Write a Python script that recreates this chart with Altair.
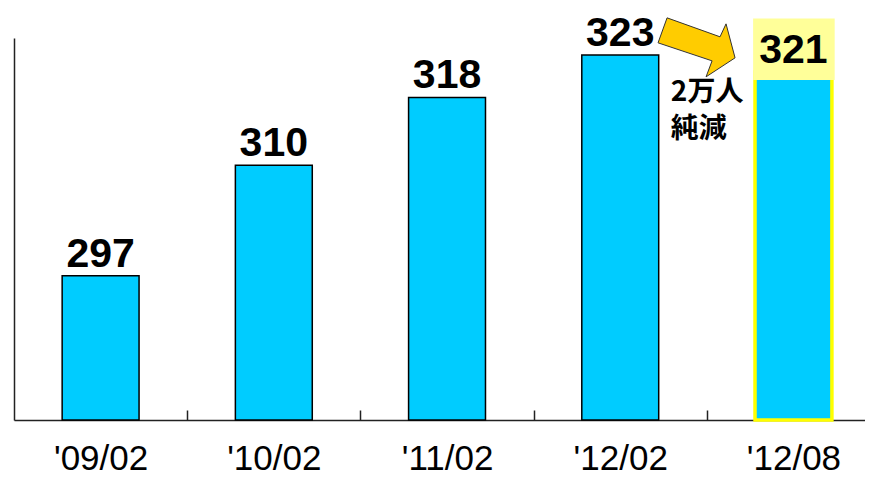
import json
import altair as alt
import pandas as pd

# ---- data ----
categories = ["'09/02", "'10/02", "'11/02", "'12/02", "'12/08"]
values = [297, 310, 318, 323, 321]
highlight_cat = "'12/08"
y_min, y_max = 280, 325

# annotation data (in data units)
box_cat = ["'12/08"]
box_top = [327.3]
box_bottom = [320.05]
arrow_cat = ["'12/02"]
arrow_y = [323.9]
note_cat = ["'12/02"]
note_y = [320.2]
note_text = ["2万人\n純減"]

df = pd.DataFrame({"cat": categories, "value": values})
box_df = pd.DataFrame({"cat": box_cat, "top": box_top, "bottom": box_bottom})
arrow_df = pd.DataFrame({"cat": arrow_cat, "y": arrow_y})
note_df = pd.DataFrame({"cat": note_cat, "y": note_y, "text": note_text})

cats_js = json.dumps(categories)
idx_expr = f"indexof({cats_js}, datum.cat)"

# category slots are one unit wide; the last slot runs past the right edge
xscale = alt.Scale(domain=[-0.5, 4.413], zero=False, nice=False)
yscale = alt.Scale(domain=[y_min, y_max], zero=False, nice=False)

main_xaxis = alt.Axis(title=None, labelAngle=0, ticks=False, grid=False,
                      values=list(range(len(categories))),
                      labelExpr=f"{cats_js}[datum.value]",
                      domainColor="#222222", domainWidth=1.5,
                      labelFont="Liberation Sans", labelFontSize=35,
                      labelColor="black", labelPadding=21, labelFlush=False,
                      labelOverlap=False)
tick_xaxis = alt.Axis(title=None, orient="bottom", offset=-10, domain=False,
                      labels=False, ticks=True, tickSize=10,
                      values=[i + 0.5 for i in range(len(categories) - 1)],
                      tickColor="#222222", tickWidth=1.5, grid=False)
yaxis = alt.Axis(title=None, labels=False, ticks=False, grid=False,
                 domainColor="#222222", domainWidth=1.5)

is_hl = alt.FieldEqualPredicate(field="cat", equal=highlight_cat)

bars = alt.Chart(df).transform_calculate(
    idx=idx_expr
).transform_calculate(
    x0="datum.idx - 0.222", x1="datum.idx + 0.222"
).mark_bar(fill="#00CCFF").encode(
    x=alt.X("x0:Q", scale=xscale, axis=main_xaxis),
    x2="x1:Q",
    y=alt.Y("value:Q", scale=yscale, axis=yaxis),
    y2=alt.datum(y_min),
    stroke=alt.condition(is_hl, alt.value("#FFFF00"), alt.value("black")),
    strokeWidth=alt.condition(is_hl, alt.value(3.5), alt.value(1.5)),
)

box = alt.Chart(box_df).transform_calculate(
    idx=idx_expr
).transform_calculate(
    x0="datum.idx - 0.233", x1="datum.idx + 0.238"
).mark_rect(color="#FFFF99").encode(
    x=alt.X("x0:Q", scale=xscale, axis=None),
    x2="x1:Q",
    y=alt.Y("top:Q", scale=yscale, axis=yaxis),
    y2="bottom:Q",
)

labels = alt.Chart(df).transform_calculate(
    idx=idx_expr
).mark_text(font="Liberation Sans", fontWeight="bold", fontSize=41,
            baseline="alphabetic", dy=-9, color="black").encode(
    x=alt.X("idx:Q", scale=xscale, axis=tick_xaxis),
    y=alt.Y("value:Q", scale=yscale, axis=yaxis),
    text="value:Q",
)

arrow_path = ("M -0.766 -0.766 L 0.610 -0.273 L 0.766 -0.610 L 1 0.273 "
              "L 0.247 0.766 L 0.403 0.351 L -1 -0.117 Z")
arrow = alt.Chart(arrow_df).transform_calculate(
    xpos=f"{idx_expr} + 0.5"
).mark_point(shape=arrow_path, size=5929, filled=True, fill="#FFCC00",
             stroke="#333333", strokeWidth=1, opacity=1, xOffset=-10.3).encode(
    x=alt.X("xpos:Q", scale=xscale, axis=None),
    y=alt.Y("y:Q", scale=yscale, axis=yaxis),
)

note = alt.Chart(note_df).transform_calculate(
    xpos=f"{idx_expr} + 0.5"
).mark_text(align="left", baseline="top", font="Noto Sans CJK JP",
            fontWeight="bold", fontSize=28, lineHeight=37, lineBreak="\n",
            dx=-36, color="black").encode(
    x=alt.X("xpos:Q", scale=xscale, axis=None),
    y=alt.Y("y:Q", scale=yscale, axis=yaxis),
    text="text:N",
)

chart = alt.layer(bars, box, labels, arrow, note).resolve_axis(
    x="independent"
).properties(
    width=851, height=382,
    padding={"left": 6, "top": 30, "right": 0, "bottom": 54},
    autosize=alt.AutoSizeParams(type="none"),
    background="white",
).configure_view(stroke=None)

chart.save("out.html", embed_options={"renderer": "svg", "actions": False})
